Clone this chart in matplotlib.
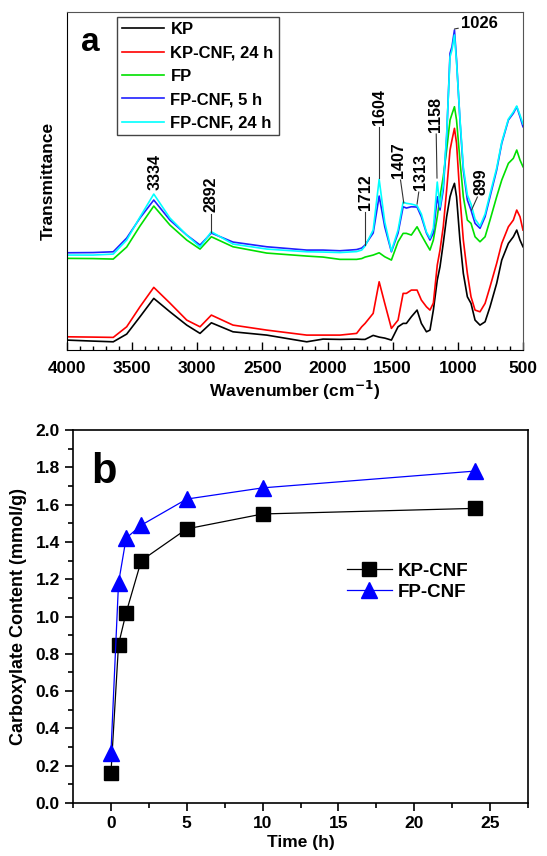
import matplotlib
matplotlib.use("Agg")
import matplotlib.pyplot as plt
from matplotlib.ticker import MultipleLocator

plt.rcParams['font.family'] = ['Liberation Sans', 'DejaVu Sans']
plt.rcParams['font.weight'] = 'bold'
plt.rcParams['axes.labelweight'] = 'bold'
plt.rcParams['mathtext.default'] = 'bf'

# ---------------- Panel a data (FTIR spectra, arbitrary units) ----------------
wavenumber = [4000, 3800, 3645, 3542, 3440, 3334, 3210, 3081, 2979, 2892, 2726, 2467,
              2160, 2035, 1905, 1777, 1738, 1712, 1650, 1604, 1561, 1510, 1459, 1420,
              1395, 1357, 1313, 1280, 1241, 1214, 1188, 1158, 1137, 1112, 1086, 1060,
              1045, 1026, 1010, 984, 958, 927, 899, 868, 830, 791, 753, 702, 663, 612,
              574, 548, 523, 500]

kp = [10, 9, 8.3, 16, 33.3, 51.7, 38.3, 25, 16.7, 27.3, 18.3, 15,
      8.3, 11, 10.7, 11, 10.7, 10.7, 14.7, 13, 12, 10, 23.3, 26.7,
      26.7, 33.3, 40, 26.7, 18.3, 20, 40, 70, 83.3, 106.7, 133.3, 153.3,
      160, 166.7, 153.3, 110, 76.7, 53.3, 46.7, 30, 25, 28.3, 43.3, 66.7, 90, 106.7,
      113.3, 120, 110, 103.3]

kp_cnf_24 = [13.3, 13, 12.7, 23.3, 43.3, 62.7, 47, 30, 23.3, 35, 25, 20,
             15, 15, 15, 16.7, 23.3, 26.7, 36.7, 68.3, 46.7, 21.7, 30, 56.7,
             56.7, 60, 60, 50, 43.3, 40, 47, 85, 100, 123.3, 160, 200,
             210, 221.7, 206.7, 153.3, 110, 76.7, 53.3, 40, 38.3, 46.7, 63.3, 86.7, 106.7, 123.3,
             130, 140, 133.3, 120]

fp = [91.7, 91.5, 91, 103, 124, 144, 125, 110, 101, 113.3, 103.3, 97,
      94, 93, 90.7, 90.7, 91.5, 93, 95, 97.3, 93.3, 90, 108.3, 116.7,
      116.7, 115, 123.3, 115, 106, 100, 110, 133.3, 153.3, 173.3, 200, 230,
      236, 243.3, 230, 190, 153.3, 130, 126.7, 113.3, 108.3, 113.3, 130, 153.3, 170, 186.7,
      191.7, 200, 190, 183.3]

fp_cnf_5 = [97.3, 97.5, 98.3, 112, 132, 150, 130, 115, 105, 117, 108, 103.3,
            100, 100, 99.3, 100.5, 102, 105, 117, 154, 123.3, 98.3, 117, 143.3,
            142, 143.3, 143, 133.3, 117, 110, 117, 153.3, 140, 160, 213.3, 296.7,
            303.3, 320, 290, 230, 180, 150, 140, 126.7, 121.7, 133.3, 153.3, 180, 206.7, 230,
            236.7, 243.3, 233.3, 223.3]

fp_cnf_24 = [95, 95, 96, 110, 133, 156, 132, 115, 103, 118.3, 106, 101,
             98.3, 98, 97.5, 98.5, 100, 104, 120, 170.7, 128, 99, 120, 148,
             146.7, 146, 144.4, 136, 118, 112, 122, 168, 143, 165, 215, 293,
             300, 315, 288, 232, 183, 155, 146, 131, 124, 136, 156, 182, 208, 231,
             238, 244, 235, 226]

spectra_labels = ['KP', 'KP-CNF, 24 h', 'FP', 'FP-CNF, 5 h', 'FP-CNF, 24 h']
spectra_colors = ['black', '#ff0000', '#00e000', '#2020ff', '#00ffff']

peak_labels = [3334, 2892, 1712, 1604, 1407, 1313, 1158, 899]

# ---------------- Panel b data ----------------
time_h = [0, 0.5, 1, 2, 5, 10, 24]
kp_cnf_carb = [0.16, 0.85, 1.02, 1.30, 1.47, 1.55, 1.58]
fp_cnf_carb = [0.27, 1.18, 1.42, 1.49, 1.63, 1.69, 1.78]

fig = plt.figure(figsize=(5.47, 8.56), dpi=100)

# ================= Panel a =================
ax1 = fig.add_axes([0.1225, 0.591, 0.8336, 0.395])
for data, lab, col in zip([kp, kp_cnf_24, fp, fp_cnf_5, fp_cnf_24], spectra_labels, spectra_colors):
    ax1.plot(wavenumber, data, color=col, lw=1.2, label=lab)
ax1.set_xlim(4000, 500)
ax1.set_ylim(0, 338)
ax1.set_yticks([])
ax1.xaxis.set_major_locator(MultipleLocator(500))
ax1.xaxis.set_minor_locator(MultipleLocator(100))
ax1.tick_params(axis='x', which='major', direction='in', length=6, width=1, labelsize=12.5, top=False, pad=8)
ax1.tick_params(axis='x', which='minor', direction='in', length=3, width=1, top=False)
for s in ['top', 'right']:
    ax1.spines[s].set_color('#555555')
ax1.set_xlabel('Wavenumber (cm$^{-1}$)', fontsize=12.5, labelpad=2)
ax1.set_ylabel('Transmittance', fontsize=12.5, labelpad=8)
ax1.text(0.03, 0.955, 'a', transform=ax1.transAxes, fontsize=24, fontweight='bold', va='top')

leg1 = ax1.legend(loc='upper left', bbox_to_anchor=(0.11, 0.985), borderaxespad=0, fontsize=12,
                  handlelength=2.5, labelspacing=0.5, borderpad=0.3, handletextpad=0.4,
                  fancybox=False, framealpha=1)
leg1.get_frame().set_edgecolor('#444444')
leg1.get_frame().set_linewidth(1)

# peak annotations (text anchor positions in data units)
ann_text_pos = {3334: (3325, 160), 2892: (2892, 138), 1712: (1712, 140), 1604: (1604, 225),
                1407: (1452, 172), 1313: (1285, 160), 1158: (1168, 218), 899: (823, 155)}
ann_lines = {2892: ((2892, 136), (2892, 118)), 1712: ((1712, 138), (1712, 105)),
             1604: ((1604, 223), (1604, 172)), 1407: ((1440, 170), (1415, 147)),
             1313: ((1300, 158), (1313, 146)), 1158: ((1166, 216), (1160, 172)),
             899: ((850, 153), (895, 140))}
for p in peak_labels:
    tx, ty = ann_text_pos[p]
    ax1.text(tx, ty, str(p), rotation=90, ha='center', va='bottom', fontsize=11.5, fontweight='bold')
    if p in ann_lines:
        (x0, y0), (x1_, y1_) = ann_lines[p]
        ax1.plot([x0, x1_], [y0, y1_], color='#333333', lw=0.8)
ax1.annotate('1026', xy=(1026, 321), xytext=(975, 326), fontsize=12, fontweight='bold',
             va='center', ha='left',
             arrowprops=dict(arrowstyle='-', color='#333333', lw=0.8, shrinkA=0, shrinkB=0))

# ================= Panel b =================
ax2 = fig.add_axes([0.1335, 0.0619, 0.8318, 0.4357])
ax2.plot(time_h, kp_cnf_carb, color='black', lw=0.9, marker='s', markersize=9.5,
         markerfacecolor='black', label='KP-CNF')
ax2.plot(time_h, fp_cnf_carb, color='#0000ff', lw=0.9, marker='^', markersize=11.5,
         markerfacecolor='#0000ff', markeredgecolor='#0000ff', label='FP-CNF')
ax2.set_xlim(-2.5, 27.5)
ax2.set_ylim(0.0, 2.0)
ax2.xaxis.set_major_locator(MultipleLocator(5))
ax2.xaxis.set_minor_locator(MultipleLocator(2.5))
ax2.yaxis.set_major_locator(MultipleLocator(0.2))
ax2.yaxis.set_minor_locator(MultipleLocator(0.1))
ax2.yaxis.set_major_formatter(matplotlib.ticker.FormatStrFormatter('%.1f'))
ax2.tick_params(which='major', direction='out', length=6, width=1.2, labelsize=12.5)
ax2.tick_params(which='minor', direction='out', length=3.5, width=1.2)
for s in ax2.spines.values():
    s.set_linewidth(1.2)
ax2.set_xlabel('Time (h)', fontsize=12.5, labelpad=3)
ax2.set_ylabel('Carboxylate Content (mmol/g)', fontsize=13, labelpad=6)
ax2.text(0.04, 0.94, 'b', transform=ax2.transAxes, fontsize=30, fontweight='bold', va='top')
ax2.legend(loc='upper left', bbox_to_anchor=(0.565, 0.69), frameon=False, fontsize=13.5,
           handlelength=2.4, labelspacing=0.2, handletextpad=0.3)

fig.savefig('out.png', dpi=100)
